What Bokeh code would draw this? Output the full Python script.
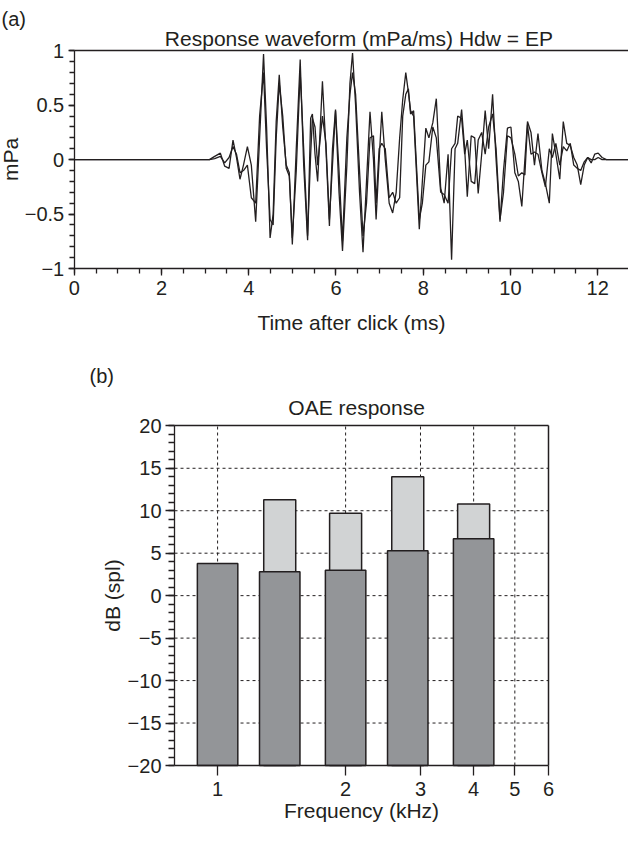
import numpy as np
from bokeh.plotting import figure
from bokeh.models import (Range1d, FixedTicker, CustomJSTickFormatter, ColumnDataSource,
                          LinearAxis, LogAxis)
from bokeh.core.properties import value
from bokeh.layouts import column
from bokeh.embed import file_html
from bokeh.resources import INLINE

# ---------------- data: (a) response waveform ----------------
time_ms = [0.0, 3.10, 3.22, 3.35, 3.45, 3.55, 3.64, 3.72, 3.80, 3.88, 3.97, 4.06, 4.16, 4.25,
           4.34, 4.41, 4.49, 4.56, 4.63, 4.70, 4.78, 4.86, 4.93, 5.00, 5.09, 5.18, 5.26, 5.35,
           5.42, 5.46, 5.52, 5.58, 5.69, 5.77, 5.85, 5.92, 5.99, 6.07, 6.15, 6.25, 6.32, 6.38,
           6.45, 6.54, 6.62, 6.70, 6.78, 6.86, 6.92, 6.99, 7.05, 7.13, 7.22, 7.30, 7.38, 7.46,
           7.53, 7.60, 7.66, 7.71, 7.78, 7.91, 7.98, 8.06, 8.13, 8.22, 8.30, 8.40, 8.48, 8.57,
           8.65, 8.73, 8.79, 8.88, 8.95, 9.01, 9.10, 9.18, 9.26, 9.34, 9.42, 9.50, 9.59, 9.67,
           9.76, 9.84, 9.93, 10.01, 10.10, 10.18, 10.26, 10.33, 10.39, 10.47, 10.55, 10.63,
           10.72, 10.80, 10.89, 10.96, 11.04, 11.13, 11.21, 11.29, 11.37, 11.45, 11.53, 11.61,
           11.69, 11.77, 11.85, 11.93, 12.01, 12.10, 12.20, 13.0]
wave_a = [0.0, 0.0, 0.03, 0.06, -0.06, -0.08, 0.18, 0.02, -0.18, -0.05, 0.12, -0.05, -0.57, 0.20,
          0.97, 0.30, -0.72, -0.50, 0.35, 0.78, 0.30, -0.05, -0.12, -0.78, 0.10, 0.92, -0.05, -0.74,
          0.38, 0.42, 0.05, -0.20, 0.72, 0.10, -0.61, 0.10, 0.46, -0.30, -0.84, -0.05, 0.70, 0.98,
          0.50, -0.30, -0.85, -0.20, 0.44, 0.00, -0.55, 0.00, 0.44, 0.00, -0.40, -0.49, -0.30, 0.20,
          0.55, 0.80, 0.62, 0.45, 0.40, -0.64, -0.20, 0.29, 0.20, 0.34, 0.56, -0.26, -0.40, 0.05,
          -0.92, 0.10, 0.15, 0.46, 0.10, -0.34, 0.22, 0.20, -0.31, 0.05, 0.45, 0.10, 0.60, 0.00,
          -0.57, -0.10, 0.29, 0.30, -0.12, -0.20, -0.43, 0.00, 0.35, 0.25, -0.05, 0.24,
          -0.10, -0.22, -0.40, 0.24, 0.05, -0.18, 0.35, 0.15, 0.13, 0.02, -0.05, -0.23,
          -0.05, 0.02, 0.00, 0.00, 0.02, 0.00, 0.0, 0.0]
wave_b = [0.0, 0.0, 0.01, 0.03, -0.03, 0.02, 0.12, 0.05, -0.12, -0.10, -0.05, -0.35, -0.40, 0.40,
          0.80, 0.10, -0.55, -0.60, 0.20, 0.70, 0.40, -0.08, -0.15, -0.72, -0.10, 0.80, 0.10, -0.70,
          0.05, 0.38, 0.30, -0.05, 0.40, 0.15, -0.55, -0.05, 0.45, -0.10, -0.75, 0.20, 0.60, 0.80,
          0.60, -0.10, -0.70, -0.40, 0.20, 0.22, -0.40, 0.10, 0.15, 0.10, -0.35, -0.30, -0.40, -0.35,
          0.40, 0.60, 0.65, 0.42, 0.45, -0.55, -0.40, -0.05, -0.02, 0.30, 0.20, -0.30, -0.32, -0.40,
          0.10, 0.15, 0.40, 0.38, 0.05, 0.18, -0.20, -0.22, 0.18, 0.25, 0.05, 0.30, 0.42, 0.10,
          -0.55, -0.30, 0.22, 0.20, 0.05, -0.15, -0.12, -0.14, 0.32, 0.05, 0.07, 0.05,
          -0.12, -0.25, 0.10, 0.02, 0.15, -0.05, 0.12, 0.08, 0.15, -0.05, -0.08, -0.10,
          -0.02, 0.02, -0.03, 0.05, 0.06, 0.02, 0.0, 0.0]
time_ticks = [0, 2, 4, 6, 8, 10, 12]
mpa_ticks = [-1, -0.5, 0, 0.5, 1]

# ---------------- data: (b) OAE response ----------------
band_khz = [1.0, 1.4, 2.0, 2.8, 4.0]
noise_db = [3.8, 2.8, 3.0, 5.3, 6.7]
oae_db = [float("nan"), 11.3, 9.7, 14.0, 10.8]
freq_ticks = [1, 2, 3, 4, 5, 6]
db_ticks = [-20, -15, -10, -5, 0, 5, 10, 15, 20]

FONT = "Liberation Sans"
INK = "#231f20"
DARK = "#939598"
LIGHT = "#d1d3d4"
W = 628

fmt = CustomJSTickFormatter(code='return (tick < 0 ? "\\u2212" : "") + Math.abs(tick).toString();')


def no_align(p):
    if "frame_align" in p.properties():
        p.frame_align = False


def add_text(p, x, y, txt, align, size):
    p.text(x=[x], y=[y], text=[txt], text_font=value(FONT), text_font_size=value(size),
           text_color=INK, text_align=align, text_baseline="alphabetic")


def style_axis(ax, width=1.3):
    ax.axis_line_color = INK
    ax.axis_line_width = width
    ax.major_tick_line_color = INK
    ax.major_tick_line_width = 1.3
    ax.minor_tick_line_color = INK
    ax.minor_tick_line_width = 1.3
    ax.major_tick_in = 0
    ax.minor_tick_in = 0
    ax.major_label_text_font = FONT
    ax.major_label_text_font_size = "20px"
    ax.major_label_text_color = INK
    ax.axis_label_text_font = FONT
    ax.axis_label_text_font_size = "21px"
    ax.axis_label_text_font_style = "normal"
    ax.axis_label_text_color = INK
    ax.formatter = fmt


def border(axis_cls, loc, bounds):
    ax = axis_cls(fixed_location=loc, bounds=bounds, ticker=FixedTicker(ticks=[], minor_ticks=[]))
    style_axis(ax, 1.5)
    ax.major_tick_line_color = None
    ax.minor_tick_line_color = None
    return ax


# ======================= (a) response waveform =======================
# the frame fills the whole canvas; axes are pinned at fixed data locations
p1 = figure(width=W, height=350, x_range=Range1d(-1.689, 12.705), y_range=Range1d(-1.7533, 1.4621),
            output_backend="svg", toolbar_location=None, min_border=0,
            x_axis_label="Time after click (ms)", y_axis_label="mPa")
no_align(p1)
p1.grid.visible = False
p1.outline_line_color = None
for ax in (p1.xaxis[0], p1.yaxis[0]):
    style_axis(ax)
p1.xaxis.fixed_location = -1
p1.xaxis.bounds = (0, 13)
p1.yaxis.fixed_location = 0
p1.yaxis.bounds = (-1, 1)
p1.xaxis.ticker = FixedTicker(ticks=time_ticks, minor_ticks=list(np.arange(0, 12.01, 0.5)))
p1.yaxis.ticker = FixedTicker(ticks=mpa_ticks, minor_ticks=list(np.round(np.arange(-1, 1.001, 0.1), 2)))
p1.xaxis.major_tick_out = 7
p1.xaxis.minor_tick_out = 5
p1.xaxis.major_label_standoff = 5
p1.xaxis.axis_label_standoff = 13
p1.yaxis.major_tick_out = 6
p1.yaxis.minor_tick_out = 5
p1.yaxis.major_label_standoff = 4
p1.yaxis.axis_label_standoff = 0
p1.add_layout(border(LinearAxis, 1, (0, 13)), "above")

p1.line(time_ms, wave_b, line_color=INK, line_width=1.3)
p1.line(time_ms, wave_a, line_color=INK, line_width=1.3)

add_text(p1, -1.666, 1.292, "(a)", "left", "20px")
add_text(p1, 6.525, 1.113, "Response waveform (mPa/ms) Hdw = EP", "center", "21px")

# ======================= (b) OAE response =======================
F0, F1 = 0.792, 6.0  # frame edges of the bar chart (kHz)
p2 = figure(width=W, height=477, x_axis_type="log", x_range=Range1d(0.3087, 9.252),
            y_range=Range1d(-27.30, 28.867), output_backend="svg", toolbar_location=None,
            min_border=0, x_axis_label="Frequency (kHz)", y_axis_label="dB (spl)")
no_align(p2)
p2.grid.visible = False
p2.outline_line_color = None
for ax in (p2.xaxis[0], p2.yaxis[0]):
    style_axis(ax)
p2.xaxis.fixed_location = -20
p2.xaxis.bounds = (F0, F1)
p2.yaxis.fixed_location = F0
p2.yaxis.bounds = (-20, 20)
p2.xaxis.ticker = FixedTicker(ticks=freq_ticks, minor_ticks=[])
p2.yaxis.ticker = FixedTicker(ticks=db_ticks, minor_ticks=list(range(-20, 21)))
p2.xaxis.major_tick_out = 10
p2.xaxis.major_label_standoff = 6
p2.xaxis.axis_label_standoff = 0
p2.yaxis.major_tick_out = 9
p2.yaxis.minor_tick_out = 6
p2.yaxis.major_label_standoff = 4
p2.yaxis.axis_label_standoff = 1
p2.add_layout(border(LogAxis, 20, (F0, F1)), "above")
p2.add_layout(border(LinearAxis, F1, (-20, 20)), "right")

# dotted grid at the tick positions, inside the frame box
gx = [f for f in freq_ticks if F0 < f < F1]
gy = [d for d in db_ticks if -20 < d < 20]
p2.segment(x0=gx, y0=[-20] * len(gx), x1=gx, y1=[20] * len(gx),
           line_color=INK, line_width=1, line_dash="3 3")
p2.segment(x0=[F0] * len(gy), y0=gy, x1=[F1] * len(gy), y1=gy,
           line_color=INK, line_width=1, line_dash="3 3")

dark_half = 2 ** 0.158
light_half = 2 ** 0.125
src = ColumnDataSource(dict(
    f=band_khz, noise=noise_db, oae=oae_db,
    dl=[f / dark_half for f in band_khz], dr=[f * dark_half for f in band_khz],
    ll=[f / light_half for f in band_khz], lr=[f * light_half for f in band_khz],
))
p2.quad(left="ll", right="lr", bottom=-20, top="oae", source=src,
        fill_color=LIGHT, line_color=INK, line_width=1.5)
p2.quad(left="dl", right="dr", bottom=-20, top="noise", source=src,
        fill_color=DARK, line_color=INK, line_width=1.5)

add_text(p2, 0.5, 25.923, "(b)", "left", "20px")
add_text(p2, 2.1225, 22.155, "OAE response", "center", "21px")

layout = column(p1, p2)
open("out.html", "w").write(file_html(layout, INLINE))
